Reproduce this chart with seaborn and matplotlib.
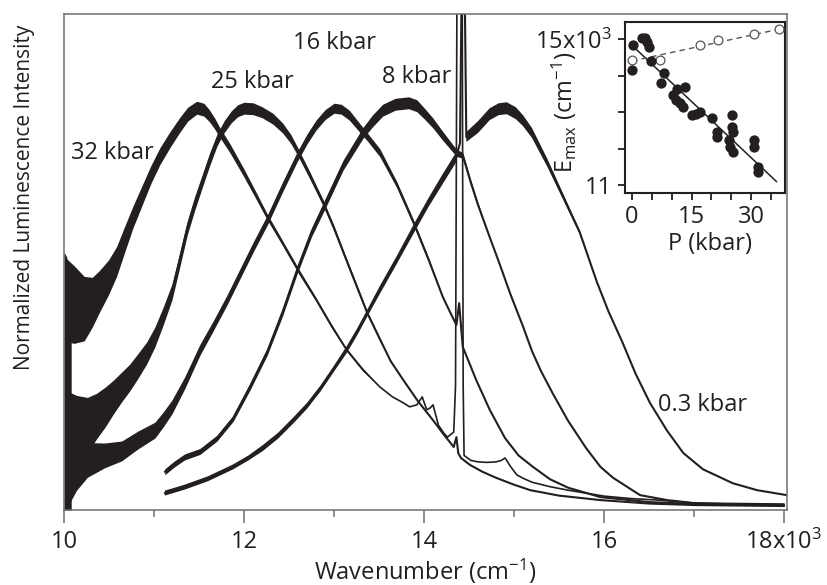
import numpy as np
import pandas as pd
import matplotlib
matplotlib.use('Agg')
import matplotlib.pyplot as plt
import seaborn as sns

# Luminescence spectra, wavenumber in 10^3 cm^-1, intensity as fraction of frame height
wn_32 = [10.02, 10.12, 10.23, 10.32, 10.40, 10.50, 10.59, 10.68, 10.77, 10.87,
         10.97, 11.07, 11.18, 11.29, 11.38, 11.48, 11.56, 11.62, 11.68, 11.73,
         11.85, 12.00, 12.13, 12.26, 12.44, 12.62, 12.80, 12.97, 13.14, 13.32,
         13.51, 13.65, 13.77, 13.84, 13.92, 13.98, 14.03, 14.07, 14.10, 14.16,
         14.22, 14.26, 14.33, 14.35, 14.365, 14.37, 14.42, 14.425, 14.435, 14.445,
         14.52, 14.60, 14.70, 14.80, 14.86, 14.90, 14.96, 15.03, 15.10, 15.20,
         15.40, 15.60, 15.80, 16.00, 16.30, 16.60, 17.00, 17.50, 18.00]
int_32 = [0.423, 0.413, 0.405, 0.418, 0.440, 0.468, 0.500, 0.545, 0.589, 0.632,
          0.675, 0.712, 0.745, 0.775, 0.797, 0.810, 0.806, 0.794, 0.778, 0.762,
          0.728, 0.680, 0.636, 0.591, 0.535, 0.478, 0.425, 0.372, 0.323, 0.283,
          0.248, 0.228, 0.216, 0.208, 0.212, 0.228, 0.202, 0.206, 0.212, 0.171,
          0.155, 0.147, 0.157, 0.25, 1.0, 1.3, 1.3, 1.0, 0.25, 0.110,
          0.100, 0.097, 0.096, 0.097, 0.100, 0.105, 0.088, 0.071, 0.064, 0.056,
          0.047, 0.040, 0.034, 0.028, 0.023, 0.020, 0.014, 0.013, 0.012]
noise_32 = [0.085, 0.078, 0.065, 0.05, 0.042, 0.035, 0.03, 0.026, 0.022, 0.02,
            0.018, 0.017, 0.016, 0.015, 0.014, 0.013, 0.013, 0.012, 0.011, 0.01,
            0.009, 0.008, 0.007, 0.006, 0.005, 0.005, 0.004, 0.004, 0.003, 0.003]

wn_25 = [10.02, 10.14, 10.26, 10.36, 10.46, 10.55, 10.64, 10.73, 10.82, 10.92,
         11.01, 11.10, 11.20, 11.28, 11.37, 11.45, 11.53, 11.62, 11.70, 11.78,
         11.86, 11.93, 12.00, 12.10, 12.20, 12.32, 12.43, 12.52, 12.59, 12.73,
         12.88, 13.00, 13.12, 13.25, 13.37, 13.50, 13.63, 13.77, 13.93, 14.10,
         14.22, 14.33, 14.36, 14.38, 14.41, 14.51, 14.65, 14.80, 15.00, 15.18,
         15.50, 15.96, 16.50, 17.00, 18.00]
int_25 = [0.141, 0.156, 0.171, 0.189, 0.208, 0.228, 0.248, 0.267, 0.290, 0.317,
          0.349, 0.390, 0.440, 0.500, 0.569, 0.617, 0.660, 0.708, 0.746, 0.773,
          0.793, 0.805, 0.810, 0.809, 0.802, 0.789, 0.770, 0.748, 0.725, 0.675,
          0.619, 0.568, 0.512, 0.452, 0.397, 0.348, 0.300, 0.262, 0.220, 0.181,
          0.152, 0.127, 0.147, 0.115, 0.105, 0.091, 0.077, 0.065, 0.051, 0.040,
          0.029, 0.020, 0.013, 0.010, 0.008]
noise_25 = [0.10, 0.075, 0.056, 0.046, 0.04, 0.034, 0.03, 0.027, 0.025, 0.022,
            0.02, 0.018, 0.016, 0.015, 0.014, 0.014, 0.013, 0.013, 0.012, 0.012,
            0.012, 0.012, 0.012, 0.012, 0.011, 0.011, 0.01, 0.009, 0.008, 0.007,
            0.006, 0.005, 0.004, 0.004, 0.003, 0.003]

wn_16 = [10.02, 10.14, 10.26, 10.45, 10.64, 10.82, 11.01, 11.10, 11.20, 11.34,
         11.51, 11.66, 11.81, 11.96, 12.11, 12.26, 12.43, 12.59, 12.70, 12.80,
         12.90, 13.00, 13.08, 13.17, 13.26, 13.38, 13.51, 13.70, 13.88, 14.05,
         14.21, 14.30, 14.36, 14.39, 14.43, 14.58, 14.73, 14.90, 15.05, 15.21,
         15.40, 15.60, 15.96, 16.50, 17.00, 18.00]
int_16 = [0.060, 0.085, 0.101, 0.110, 0.119, 0.141, 0.161, 0.182, 0.208, 0.256,
          0.323, 0.372, 0.423, 0.478, 0.533, 0.585, 0.652, 0.712, 0.748, 0.776,
          0.797, 0.810, 0.808, 0.796, 0.776, 0.750, 0.720, 0.655, 0.581, 0.505,
          0.429, 0.395, 0.373, 0.417, 0.329, 0.262, 0.202, 0.145, 0.110, 0.087,
          0.062, 0.045, 0.026, 0.016, 0.012, 0.010]
noise_16 = [0.06, 0.045, 0.035, 0.025, 0.02, 0.018, 0.016, 0.015, 0.014, 0.012,
            0.011, 0.01, 0.01, 0.01, 0.01, 0.01, 0.01, 0.01, 0.01, 0.01,
            0.01, 0.01, 0.01, 0.01, 0.009, 0.008, 0.008, 0.006, 0.005, 0.004]

wn_8 = [11.12, 11.22, 11.34, 11.51, 11.70, 11.88, 12.07, 12.26, 12.43, 12.59,
        12.75, 12.92, 13.10, 13.32, 13.43, 13.54, 13.68, 13.83, 13.92, 14.00,
        14.10, 14.20, 14.28, 14.36, 14.43, 14.52, 14.60, 14.73, 14.84, 14.96,
        15.10, 15.20, 15.30, 15.43, 15.60, 15.80, 15.96, 16.10, 16.40, 16.70,
        17.00, 17.50, 18.00]
int_8 = [0.077, 0.092, 0.107, 0.118, 0.145, 0.185, 0.250, 0.320, 0.400, 0.484,
         0.560, 0.625, 0.695, 0.760, 0.785, 0.806, 0.818, 0.821, 0.815, 0.800,
         0.780, 0.756, 0.738, 0.720, 0.715, 0.660, 0.615, 0.550, 0.496, 0.435,
         0.370, 0.320, 0.280, 0.235, 0.180, 0.125, 0.087, 0.065, 0.030, 0.020,
         0.014, 0.011, 0.010]
noise_8 = [0.006, 0.006, 0.006, 0.006, 0.006, 0.006, 0.007, 0.007, 0.008, 0.008,
           0.009, 0.01, 0.01, 0.011, 0.012, 0.012, 0.012, 0.012, 0.012, 0.011,
           0.01, 0.009, 0.008, 0.007, 0.006, 0.005, 0.004]

wn_03 = [11.12, 11.34, 11.60, 11.88, 12.05, 12.21, 12.38, 12.55, 12.70, 12.85,
         13.00, 13.14, 13.26, 13.37, 13.51, 13.70, 13.88, 14.05, 14.20, 14.36,
         14.40, 14.415, 14.42, 14.45, 14.455, 14.47, 14.60, 14.73, 14.83, 14.92,
         15.02, 15.10, 15.20, 15.37, 15.55, 15.73, 15.92, 16.05, 16.20, 16.35,
         16.51, 16.70, 16.88, 17.10, 17.43, 17.70, 18.03]
int_03 = [0.034, 0.046, 0.063, 0.087, 0.105, 0.125, 0.150, 0.181, 0.210, 0.245,
          0.285, 0.323, 0.360, 0.397, 0.444, 0.505, 0.565, 0.620, 0.665, 0.712,
          0.74, 1.0, 1.3, 1.3, 1.0, 0.752, 0.772, 0.798, 0.808, 0.810,
          0.800, 0.785, 0.760, 0.700, 0.630, 0.560, 0.460, 0.400, 0.340, 0.275,
          0.216, 0.160, 0.115, 0.082, 0.054, 0.040, 0.030]
noise_03 = [0.005, 0.005, 0.005, 0.005, 0.005, 0.006, 0.006, 0.006, 0.006, 0.006,
            0.006, 0.007, 0.007, 0.007, 0.008, 0.008, 0.009, 0.009, 0.01, 0.01,
            0, 0, 0, 0, 0, 0.01, 0.012, 0.012, 0.012, 0.012,
            0.012, 0.011, 0.01, 0.008, 0.006, 0.004]

# solid noise block at the red edge of the detector
edge_wn = [10.0, 10.03, 10.06, 10.08]
edge_top = [0.52, 0.51, 0.46, 0.36]

spec_labels = ['32 kbar', '25 kbar', '16 kbar', '8 kbar', '0.3 kbar']
label_wn = [10.54, 12.09, 13.01, 13.92, 17.10]
label_int = [0.720, 0.863, 0.942, 0.873, 0.212]

# inset: band maximum vs pressure
p_filled = [0.2, 0.0, 2.4, 3.3, 3.7, 4.3, 4.7, 8.1, 7.3, 11.4, 13.4, 10.4, 11.1, 12.1, 12.9,
            15.0, 16.1, 17.1, 20.1, 21.3, 21.5, 25.1, 25.1, 25.4, 24.3, 24.7, 25.4, 30.7, 30.7,
            31.8, 31.8]
e_filled = [14.85, 14.15, 15.02, 15.02, 14.93, 14.79, 14.40, 14.08, 13.80, 13.62, 13.68, 13.47,
            13.33, 13.24, 13.15, 12.92, 12.96, 13.01, 12.83, 12.46, 12.32, 12.92, 12.60, 12.46,
            12.23, 12.05, 11.91, 12.23, 12.05, 11.50, 11.36]
p_open = [0.0, 7.0, 17.0, 21.7, 30.6, 36.9]
e_open = [14.44, 14.42, 14.85, 14.97, 15.14, 15.27]
fit_filled_p = [0.0, 36.4]
fit_filled_e = [14.83, 11.09]
fit_open_p = [0.0, 36.9]
fit_open_e = [14.40, 15.27]

ink = '#231f20'
frame = '#6d6e71'

sns.set_style('ticks')
plt.rcParams['font.family'] = ['Open Sans', 'DejaVu Sans']
plt.rcParams['mathtext.fontset'] = 'custom'
plt.rcParams['mathtext.rm'] = 'Open Sans'
plt.rcParams['mathtext.default'] = 'rm'
plt.rcParams['text.color'] = ink

fig = plt.figure(figsize=(8.28, 5.85), dpi=100)
ax = fig.add_axes([0.0773, 0.1282, 0.8732, 0.8479])

spectra = [(wn_32, int_32, noise_32, 1.2),
           (wn_25, int_25, noise_25, 1.5),
           (wn_16, int_16, noise_16, 1.5),
           (wn_8, int_8, noise_8, 1.5),
           (wn_03, int_03, noise_03, 1.5)]
for wn, inten, noise, lw in spectra:
    df = pd.DataFrame({'wn': wn, 'I': inten})
    sns.lineplot(data=df, x='wn', y='I', ax=ax, color=ink, lw=lw,
                 estimator=None, sort=False, solid_joinstyle='round')
    band = np.zeros(len(wn))
    band[:len(noise)] = noise
    ax.fill_between(wn, np.array(inten) - band, np.array(inten) + band,
                    color=ink, lw=0)
ax.fill_between(edge_wn, 0, edge_top, color=ink, lw=0)

for txt, x, y in zip(spec_labels, label_wn, label_int):
    ax.text(x, y, txt, ha='center', va='center', fontsize=17, color=ink)

ax.set_xlim(10, 18.033)
ax.set_ylim(0, 1)
ax.set_yticks([])
ax.set_xticks([10, 12, 14, 16, 18])
ax.set_xticklabels(['10', '12', '14', '16', '18x10$^3$'])
ax.set_xticks([11, 13, 15, 17], minor=True)
ax.tick_params(axis='x', which='major', direction='out', length=9.5, width=1.1,
               color=frame, labelsize=17, labelcolor=ink, pad=5)
ax.tick_params(axis='x', which='minor', direction='out', length=5, width=1.1, color=frame)
for sp in ax.spines.values():
    sp.set_color(frame)
    sp.set_linewidth(1.1)
ax.set_xlabel('Wavenumber (cm$^{-1}$)', fontsize=17, color=ink)
ax.xaxis.set_label_coords(0.5, -0.095)
ax.set_ylabel('Normalized Luminescence Intensity', fontsize=15, color=ink)
ax.yaxis.set_label_coords(-0.040, 0.631)

# inset
axi = fig.add_axes([0.7548, 0.6701, 0.1932, 0.2923])
sns.lineplot(x=fit_filled_p, y=fit_filled_e, ax=axi, color=ink, lw=1.1)
sns.lineplot(x=fit_open_p, y=fit_open_e, ax=axi, color='#555555', lw=1.0, linestyle=(0, (4, 3)))
sns.scatterplot(x=p_open, y=e_open, ax=axi, s=40, facecolor='white', edgecolor='#555555',
                linewidth=0.9, zorder=3)
sns.scatterplot(x=p_filled, y=e_filled, ax=axi, s=55, color=ink, edgecolor=ink, linewidth=0,
                zorder=4)
axi.set_xlim(-1.76, 38.5)
axi.set_ylim(10.78, 15.47)
axi.set_xticks([0, 5, 10, 15, 20, 25, 30, 35])
axi.set_xticklabels(['0', '', '', '15', '', '', '30', ''])
axi.set_yticks([11, 12, 13, 14, 15])
axi.set_yticklabels(['11', '', '', '', '15x10$^3$'])
axi.tick_params(direction='out', length=5, width=1.3, color=ink, labelsize=17,
                labelcolor=ink, pad=4)
for sp in axi.spines.values():
    sp.set_color(ink)
    sp.set_linewidth(1.5)
axi.set_xlabel('P (kbar)', fontsize=17, color=ink)
axi.xaxis.set_label_coords(0.53, -0.23)
axi.set_ylabel('E$_{\\mathrm{max}}$ (cm$^{-1}$)', fontsize=17, color=ink)
axi.yaxis.set_label_coords(-0.29, 0.47)

fig.savefig('out.png', dpi=100)
